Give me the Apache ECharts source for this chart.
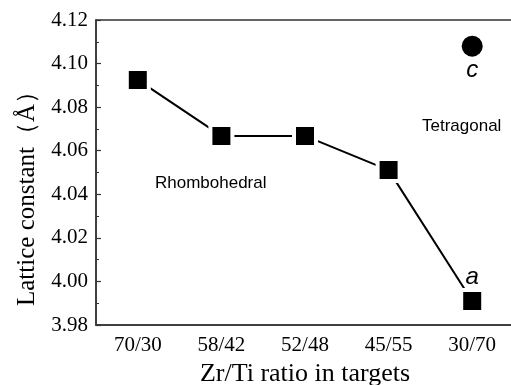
<!DOCTYPE html>
<html>
<head>
<meta charset="utf-8">
<script src="https://cdn.jsdelivr.net/npm/echarts@6/dist/echarts.min.js"></script>
<style>
	html, body { margin: 0; padding: 0; background: #fff; }
	#main { width: 511px; height: 385px; }
</style>
</head>
<body>
<div id="main"></div>
<script>
// Zr/Ti 比例
var ratios = ['70/30', '58/42', '52/48', '45/55', '30/70'];
// 晶格常数 a
var latticeA = [4.0925, 4.0668, 4.0668, 4.0511, 3.991];
// 四方相 c 值（只有 30/70）
var latticeC = [null, null, null, null, 4.108];
var yTicks = { min: 3.98, max: 4.12, step: 0.02 };

var serif = "'Liberation Serif', 'Times New Roman', serif";
var sans = "'Liberation Sans', Arial, sans-serif";

var chart = echarts.init(document.getElementById('main'));

// 给最后一个点加上 a / c 标注
var aData = latticeA.map(function(v, i) {
	if (i == latticeA.length - 1) {
		return {
			value: v,
			label: {
				show: true, position: 'top', distance: -1, formatter: 'a',
				fontFamily: sans, fontStyle: 'italic', fontSize: 24, color: '#000'
			}
		};
	}
	return v;
});
var cData = latticeC.map(function(v) {
	if (v == null) return '-';
	return {
		value: v,
		label: {
			show: true, position: 'bottom', distance: 2, formatter: 'c',
			fontFamily: sans, fontStyle: 'italic', fontSize: 24, color: '#000'
		}
	};
});

var option = {
	animation: false,
	backgroundColor: '#fff',
	grid: {
		left: 96,
		top: 20,
		right: -3,
		bottom: 60,
		outerBoundsMode: 'none',
		containLabel: false,
		show: true,
		borderColor: '#333',
		borderWidth: 1.5
	},
	xAxis: {
		type: 'category',
		data: ratios,
		boundaryGap: true,
		name: 'Zr/Ti ratio in targets',
		nameLocation: 'middle',
		nameGap: 35,
		nameTextStyle: { fontFamily: serif, fontSize: 26, color: '#000' },
		axisLine: { lineStyle: { color: '#333', width: 1.5 } },
		axisTick: { inside: true, alignWithLabel: true, length: 5, lineStyle: { color: '#333', width: 1.2 } },
		axisLabel: { fontFamily: serif, fontSize: 21, color: '#000', margin: 10 },
		splitLine: { show: false }
	},
	yAxis: {
		type: 'value',
		min: yTicks.min,
		max: yTicks.max,
		interval: yTicks.step,
		name: 'Lattice constant（Å）',
		nameLocation: 'middle',
		nameGap: 56,
		nameTextStyle: { fontFamily: serif, fontSize: 25, color: '#000', padding: [0, 40, 0, 0] },
		axisLine: { show: true, lineStyle: { color: '#333', width: 1.5 } },
		axisTick: { show: true, inside: true, length: 5, lineStyle: { color: '#333', width: 1.2 } },
		minorTick: { show: true, splitNumber: 2, length: 3, lineStyle: { color: '#333', width: 1 } },
		axisLabel: {
			fontFamily: serif, fontSize: 21, color: '#000', margin: 8,
			formatter: function(v) { return v.toFixed(2); }
		},
		splitLine: { show: false }
	},
	graphic: [{
		type: 'text',
		left: 155,
		top: 175,
		style: { text: 'Rhombohedral', font: '17px ' + sans, fill: '#000' }
	}, {
		type: 'text',
		left: 422,
		top: 118,
		style: { text: 'Tetragonal', font: '17px ' + sans, fill: '#000' }
	}],
	series: [{
		name: 'a',
		type: 'line',
		data: aData,
		symbol: 'rect',
		symbolSize: 22,
		lineStyle: { color: '#000', width: 2 },
		itemStyle: { color: '#000', borderColor: '#fff', borderWidth: 4 },
		z: 3
	}, {
		name: 'c',
		type: 'scatter',
		data: cData,
		symbol: 'circle',
		symbolSize: 21,
		itemStyle: { color: '#000', opacity: 1 }
	}]
};

chart.setOption(option);
</script>
</body>
</html>
